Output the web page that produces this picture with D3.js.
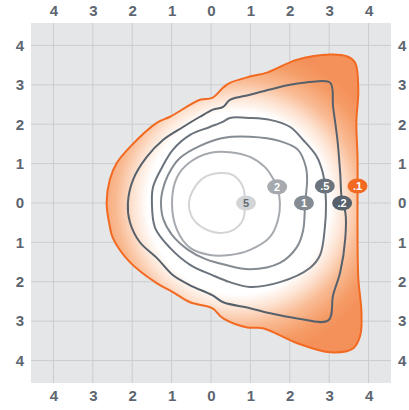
<!DOCTYPE html>
<html>
<head>
<meta charset="utf-8">
<script src="https://cdn.jsdelivr.net/npm/d3@7"></script>
<style>
  body { margin: 0; background: #fff; }
  text { font-family: "Liberation Sans", Arial, sans-serif; }
</style>
</head>
<body>
<div id="chart"></div>
<script>
// contour levels, outer to inner
const levels = [".1", ".2", ".5", "1", "2", "5"];

// contour rings, [x, y] in axis units
const ring01 = [[3.72,0],[3.72,1.17],[3.69,2.04],[3.74,2.88],[3.66,3.56],[3.46,3.72],[3.03,3.77],[2.19,3.64],[1.42,3.31],[0.99,3.21],[0.48,3.05],[0.31,2.93],[0.03,2.67],[-0.28,2.62],[-1.04,2.19],[-1.37,2.04],[-2.06,1.42],[-2.39,1.02],[-2.57,0.59],[-2.65,0],[-2.57,-0.59],[-2.49,-0.89],[-2.06,-1.50],[-1.37,-2.04],[-0.97,-2.26],[-0.53,-2.52],[0.03,-2.67],[0.31,-2.93],[0.92,-3.16],[1.32,-3.18],[2.19,-3.56],[3.03,-3.79],[3.61,-3.69],[3.79,-3.36],[3.82,-2.77],[3.74,-1.91],[3.72,-0.64]];
const ring02 = [[3.33,0],[3.28,0.76],[3.21,1.60],[3.10,2.44],[3.03,3.05],[2.60,3.08],[2.01,3.00],[1.50,2.88],[0.99,2.75],[0.48,2.62],[0.31,2.44],[0.05,2.37],[-0.28,2.19],[-0.71,1.93],[-1.22,1.60],[-1.63,1.17],[-1.98,0.59],[-2.11,0],[-2.06,-0.48],[-1.81,-0.99],[-1.37,-1.40],[-0.97,-1.83],[-0.53,-2.09],[0.03,-2.34],[0.31,-2.52],[0.99,-2.67],[1.50,-2.80],[2.19,-2.93],[2.98,-2.98],[3.10,-2.34],[3.28,-1.76],[3.41,-0.89],[3.41,-0.23]];
const ring05 = [[2.92,0],[2.89,0.43],[2.84,0.76],[2.69,1.17],[2.34,1.60],[2.01,1.93],[1.50,2.11],[0.99,2.16],[0.48,2.16],[0.30,2.06],[-0.03,1.93],[-0.53,1.73],[-0.97,1.35],[-1.24,0.91],[-1.47,0.41],[-1.50,0],[-1.42,-0.63],[-1.04,-1.14],[-0.53,-1.57],[0.03,-1.83],[0.48,-2.01],[0.99,-2.13],[1.75,-2.01],[2.51,-1.65],[2.77,-1.32],[2.89,-0.63]];
const ring1 = [[2.39,0],[2.44,0.58],[2.41,0.91],[2.21,1.35],[1.75,1.57],[0.99,1.68],[0.30,1.65],[-0.28,1.45],[-0.79,1.14],[-1.09,0.71],[-1.24,0.28],[-1.27,0],[-1.22,-0.38],[-0.99,-0.81],[-0.58,-1.19],[-0.15,-1.42],[0.36,-1.57],[0.99,-1.68],[1.75,-1.52],[2.18,-1.12],[2.34,-0.69]];
const ring2 = [[1.75,0],[1.68,0.41],[1.57,0.63],[1.37,0.91],[0.99,1.17],[0.48,1.29],[-0.03,1.27],[-0.53,1.04],[-0.86,0.66],[-0.99,0],[-0.86,-0.69],[-0.53,-1.14],[-0.03,-1.32],[0.48,-1.32],[0.99,-1.19],[1.50,-0.86],[1.70,-0.43]];
const ring5 = [[0.86,0],[0.81,0.41],[0.56,0.71],[0.23,0.76],[-0.20,0.63],[-0.48,0.28],[-0.56,0],[-0.48,-0.36],[-0.20,-0.63],[0.23,-0.76],[0.56,-0.69],[0.81,-0.43]];
const rings = [ring01, ring02, ring05, ring1, ring2, ring5];

// where each level's tag sits
const labelX = [3.72, 3.33, 2.89, 2.36, 1.68, 0.89];
const labelY = [0.43, 0, 0.43, 0, 0.41, 0];

const ticks = [-4, -3, -2, -1, 0, 1, 2, 3, 4];

const lineColor = ["#f26a21", "#57616b", "#6b737c", "#858b92", "#a6aaaf", "#d2d4d6"];
const tagText = ["#fff", "#fff", "#fff", "#fff", "#fff", "#646c74"];

// shading: white core fading to orange, centre and reach in axis units
const shadeCenter = [0.7, 0];
const shadeReach = 4.2;
const shadeStops = [[0, "#ffffff"], [0.55, "#ffffff"], [0.64, "#fde3d2"], [0.74, "#f9bb94"], [0.86, "#f59c67"], [0.95, "#f4905a"]];

const width = 409, height = 410;
const margin = {top: 23, right: 18, bottom: 27, left: 31};
const W = width - margin.left - margin.right, H = height - margin.top - margin.bottom;

const x = d3.scaleLinear().domain([-4.57, 4.57]).range([margin.left, margin.left + W]);
const y = d3.scaleLinear().domain([-4.57, 4.57]).range([margin.top + H, margin.top]);

const svg = d3.select("#chart").append("svg")
    .attr("width", width).attr("height", height);

const line = d3.line()
    .x(d => x(d[0])).y(d => y(d[1]))
    .curve(d3.curveCatmullRomClosed.alpha(0.5));

const grad = svg.append("defs").append("radialGradient")
    .attr("id", "shade")
    .attr("gradientUnits", "userSpaceOnUse")
    .attr("cx", x(shadeCenter[0])).attr("cy", y(shadeCenter[1]))
    .attr("r", x(shadeReach) - x(0));
grad.selectAll("stop").data(shadeStops).join("stop")
    .attr("offset", d => d[0])
    .attr("stop-color", d => d[1]);

// panel
svg.append("rect")
    .attr("x", margin.left).attr("y", margin.top)
    .attr("width", W).attr("height", H)
    .attr("fill", "#e5e6e8");

// grid
const grid = svg.append("g").attr("stroke", "#cbcdd0").attr("stroke-width", 1);
grid.selectAll("line.v").data(ticks).join("line")
    .attr("class", "v")
    .attr("x1", d => x(d)).attr("x2", d => x(d))
    .attr("y1", margin.top).attr("y2", margin.top + H);
grid.selectAll("line.h").data(ticks).join("line")
    .attr("class", "h")
    .attr("y1", d => y(d)).attr("y2", d => y(d))
    .attr("x1", margin.left).attr("x2", margin.left + W);

// shaded area inside the outer contour
svg.append("path")
    .attr("d", line(ring01))
    .attr("fill", "url(#shade)");

// contour lines
svg.append("g")
    .attr("fill", "none")
    .attr("stroke-width", 2)
    .attr("stroke-linejoin", "round")
  .selectAll("path")
  .data(rings)
  .join("path")
    .attr("d", line)
    .attr("stroke", (d, i) => lineColor[i]);

// level tags
const tag = svg.append("g")
  .selectAll("g")
  .data(levels)
  .join("g")
    .attr("transform", (d, i) => `translate(${x(labelX[i])},${y(labelY[i])})`);
tag.append("ellipse")
    .attr("rx", 10).attr("ry", 7.5)
    .attr("fill", (d, i) => lineColor[i]);
tag.append("text")
    .attr("text-anchor", "middle")
    .attr("dy", "0.36em")
    .attr("font-size", 11)
    .attr("font-weight", "bold")
    .attr("fill", (d, i) => tagText[i])
    .text(d => d);

// axes on all four sides
const fmt = d => Math.abs(d);
const axes = [
  [d3.axisTop(x), `translate(0,${margin.top})`],
  [d3.axisBottom(x), `translate(0,${margin.top + H})`],
  [d3.axisLeft(y), `translate(${margin.left},0)`],
  [d3.axisRight(y), `translate(${margin.left + W},0)`]
];
axes.forEach(([ax, tr]) => {
  svg.append("g")
      .attr("transform", tr)
      .call(ax.tickValues(ticks).tickFormat(fmt).tickSize(0).tickPadding(7))
      .call(g => g.select(".domain").remove())
      .call(g => g.selectAll("text")
          .attr("font-family", "'Liberation Sans', Arial, sans-serif")
          .attr("font-size", 15)
          .attr("font-weight", "bold")
          .attr("fill", "#5c6570"));
});
</script>
</body>
</html>
